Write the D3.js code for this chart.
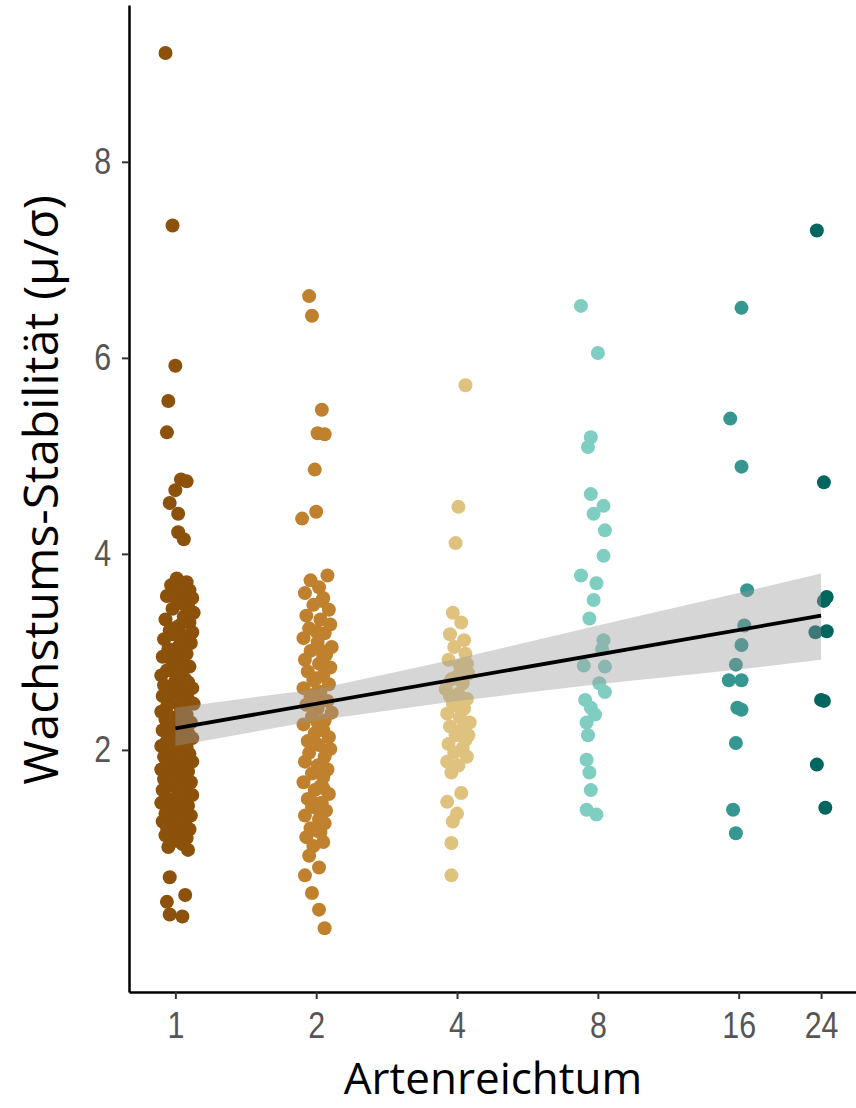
<!DOCTYPE html>
<html><head><meta charset="utf-8">
<script src="https://cdn.jsdelivr.net/npm/d3@7"></script>
<style>body{margin:0;background:#fff}svg{display:block}</style>
</head><body>
<script>
// ---- data ----
const richness = [1, 2, 4, 8, 16, 24];
const tickLabels = ["1", "2", "4", "8", "16", "24"];
const yTicks = [2, 4, 6, 8];
const groupColors = ["#8c510a", "#bf812d", "#dfc27d", "#80cdc1", "#35978f", "#01665e"];
// points: [stability, jitter (log2 units)]
const g1 = [[9.11,-0.07],[7.35,-0.02],[5.92,0.0],[5.56,-0.05],[5.24,-0.06],[4.76,0.04],[4.74,0.08],[4.65,0.0],[4.52,-0.04],[4.41,0.02],[4.22,0.02],[4.15,0.06],
[3.75,0.01],[3.71,0.08],[3.68,-0.03],[3.63,0.10],[3.60,0.05],[3.57,-0.06],[3.55,0.12],[3.50,0.02],[3.47,0.09],[3.44,-0.02],[3.40,0.13],[3.36,0.06],[3.33,-0.07],[3.30,0.10],[3.27,0.03],[3.22,-0.04],[3.20,0.12],[3.16,0.07],[3.13,-0.08],[3.09,0.11],[3.05,0.02],[3.03,-0.05],[2.98,0.08],[2.95,-0.09],[2.93,0.04],[2.88,-0.02],[2.85,0.10],[2.81,-0.06],[2.79,0.05],[2.76,-0.10],[2.72,0.07],[2.70,0.0],[2.66,-0.08],[2.63,0.12],[2.61,-0.03],[2.58,0.06],[2.55,-0.09],[2.52,0.09],[2.49,-0.01],[2.47,0.13],[2.44,-0.06],[2.41,0.04],[2.39,-0.10],[2.36,0.08],[2.33,0.0],[2.31,-0.07],[2.28,0.11],[2.25,-0.03],[2.22,0.05],[2.20,-0.09],[2.17,0.09],[2.15,-0.01],[2.12,0.12],[2.09,-0.06],[2.07,0.03],[2.04,-0.10],[2.01,0.07],[1.99,-0.04],[1.96,0.10],[1.93,-0.08],[1.91,0.02],[1.88,0.12],[1.86,-0.05],[1.83,0.06],[1.80,-0.10],[1.78,0.09],[1.75,-0.02],[1.72,0.04],[1.70,-0.08],[1.67,0.11],[1.64,-0.04],[1.62,0.07],[1.59,-0.09],[1.57,0.02],[1.54,0.12],[1.51,-0.06],[1.49,0.05],[1.46,-0.10],[1.43,0.09],[1.41,-0.02],[1.38,0.03],[1.35,-0.07],[1.33,0.11],[1.30,0.0],[1.27,-0.09],[1.25,0.07],[1.22,-0.04],[1.19,0.10],[1.16,0.02],[1.13,-0.07],[1.10,0.08],[1.07,-0.01],[1.04,0.05],[1.01,-0.05],[0.98,0.09],
[3.58,-0.02],[3.49,0.05],[3.38,0.09],[3.24,-0.01],[3.11,0.04],[2.97,0.0],[2.83,0.03],[2.69,0.09],[2.57,0.02],[2.45,0.07],[2.34,-0.04],[2.24,0.01],[2.13,-0.05],[2.03,0.08],[1.94,0.04],[1.84,-0.01],[1.74,0.02],[1.65,-0.06],[1.55,0.06],[1.45,0.01],[1.36,0.06],[1.26,0.03],[1.17,-0.03],[1.08,0.04],[3.65,0.05],[3.18,-0.02],[2.74,0.01],[2.29,0.03],[1.89,-0.06],[1.52,0.03],[1.21,-0.06],[2.62,0.05],[2.18,0.06],[1.69,0.00],[1.31,0.04],[2.50,0.04],[2.05,0.00],[1.60,0.05],
[0.70,-0.04],[0.52,0.07],[0.45,-0.06],[0.32,-0.04],[0.30,0.05]];
const g2 = [[6.63,-0.05],[6.43,-0.03],[5.47,0.04],[5.23,0.01],[5.22,0.06],[4.86,-0.01],[4.43,0.0],[4.36,-0.10],
[3.78,0.08],[3.73,-0.04],[3.66,0.02],[3.60,-0.08],[3.55,0.05],[3.48,-0.02],[3.43,0.09],[3.37,-0.07],[3.33,0.03],[3.28,0.10],[3.24,-0.05],[3.19,0.06],[3.14,-0.09],[3.10,0.01],[3.05,0.11],[3.01,-0.04],[2.97,0.07],[2.92,-0.08],[2.88,0.02],[2.84,0.10],[2.80,-0.06],[2.76,0.05],[2.71,-0.02],[2.67,0.09],[2.63,-0.09],[2.59,0.03],[2.55,-0.04],[2.50,0.08],[2.46,-0.07],[2.42,0.01],[2.38,0.11],[2.34,-0.03],[2.30,0.06],[2.26,-0.09],[2.21,0.04],[2.17,-0.01],[2.13,0.09],[2.09,-0.06],[2.05,0.02],[2.01,0.10],[1.97,-0.05],[1.93,0.06],[1.88,-0.08],[1.84,0.01],[1.80,0.08],[1.76,-0.03],[1.72,0.05],[1.67,-0.09],[1.63,0.03],[1.59,-0.01],[1.55,0.09],[1.50,-0.06],[1.46,0.04],[1.42,-0.03],[1.38,0.07],[1.33,-0.08],[1.29,0.02],[1.25,0.06],[1.20,-0.04],[1.16,0.03],[1.11,-0.07],[1.06,0.05],[1.02,-0.02],
[3.52,0.04],[3.21,0.00],[2.95,0.05],[2.73,0.00],[2.52,0.04],[2.28,0.01],[2.07,-0.03],[1.86,0.04],[1.61,0.05],[1.40,0.01],[1.18,0.00],[3.02,0.03],[2.60,0.01],[2.20,0.05],[1.78,0.02],[1.45,0.00],
[0.92,-0.05],[0.80,0.02],[0.72,-0.08],[0.54,-0.03],[0.37,0.02],[0.18,0.06]];
const g4 = [[5.72,0.06],[4.48,0.01],[4.11,-0.01],[3.40,-0.03],[3.30,0.03],[3.18,-0.05],[3.12,0.05],[3.05,-0.02],[2.98,0.06],[2.92,-0.06],[2.86,0.02],[2.78,0.08],[2.72,-0.04],[2.68,0.04],[2.62,-0.08],[2.57,0.01],[2.52,0.07],[2.47,-0.03],[2.42,0.05],[2.37,-0.07],[2.33,0.02],[2.28,0.09],[2.24,-0.05],[2.20,0.03],[2.15,-0.01],[2.10,0.06],[2.06,-0.06],[2.02,0.04],[1.97,-0.02],[1.93,0.07],[1.88,-0.07],[1.84,0.01],[2.75,0.00],[2.45,0.00],[2.15,0.08],[2.55,-0.05],[2.88,0.07],
[1.77,-0.04],[1.56,0.03],[1.47,-0.07],[1.35,0.00],[1.27,-0.03],[1.05,-0.04],[0.72,-0.04]];
const g8 = [[6.53,-0.12],[6.05,0.00],[5.19,-0.05],[5.09,-0.07],[4.61,-0.05],[4.49,0.04],[4.41,-0.03],[4.24,0.05],[3.98,0.04],[3.78,-0.12],[3.70,-0.01],[3.53,-0.03],[3.34,-0.06],[3.12,0.04],[3.03,0.03],[2.86,-0.10],[2.85,0.05],[2.68,0.01],[2.59,0.05],[2.51,-0.09],[2.43,-0.05],[2.36,-0.02],[2.28,-0.08],[2.15,-0.07],[1.90,-0.08],[1.77,-0.06],[1.59,-0.05],[1.39,-0.08],[1.34,-0.01]];
const g16 = [[6.51,0.02],[5.38,-0.06],[4.89,0.02],[3.63,0.06],[3.27,0.04],[3.07,0.02],[2.87,-0.02],[2.71,-0.07],[2.71,0.02],[2.43,-0.01],[2.41,0.02],[2.07,-0.02],[1.39,-0.04],[1.15,-0.02]];
const g24 = [[7.30,-0.03],[4.73,0.02],[3.56,0.04],[3.52,0.02],[3.20,-0.04],[3.21,0.04],[2.51,0.00],[2.50,0.02],[1.85,-0.03],[1.41,0.03]];
const groups = [g1, g2, g4, g8, g16, g24];
// fitted line and confidence band
const fitX = [1, 24];
const fitY = [2.22, 3.37];
const bandX = [1, 2, 4, 8, 16, 24];
const bandLow = [2.04, 2.30, 2.50, 2.67, 2.82, 2.92];
const bandHigh = [2.43, 2.62, 2.93, 3.27, 3.60, 3.80];

// ---- chart ----
const W = 856, H = 1108;
const svg = d3.select("body").append("svg").attr("width", W).attr("height", H);
const x = d3.scaleLog().base(2).domain([0.796, 28.5]).range([129, 856]);
const y = d3.scaleLinear().domain([-0.47, 9.6]).range([992, 5]);

const pts = [];
groups.forEach((g, i) => g.forEach(p => pts.push({r: richness[i] * Math.pow(2, p[1]), v: p[0], c: groupColors[i]})));
svg.append("g").selectAll("circle").data(pts).join("circle")
  .attr("cx", d => x(d.r)).attr("cy", d => y(d.v)).attr("r", 7).attr("fill", d => d.c);

const band = bandX.map((b, i) => ({x: b, lo: bandLow[i], hi: bandHigh[i]}));
svg.append("path").datum(band)
  .attr("d", d3.area().x(d => x(d.x)).y0(d => y(d.lo)).y1(d => y(d.hi)))
  .attr("fill", "#999999").attr("fill-opacity", 0.4);
svg.append("path").datum(fitX.map((f, i) => [f, fitY[i]]))
  .attr("d", d3.line().x(d => x(d[0])).y(d => y(d[1])))
  .attr("stroke", "#000").attr("stroke-width", 3.8).attr("fill", "none");

const xa = svg.append("g").attr("transform", "translate(0,992)")
  .call(d3.axisBottom(x).tickValues(richness).tickFormat((d, i) => tickLabels[i]).tickSize(7).tickSizeOuter(0).tickPadding(13));
const ya = svg.append("g").attr("transform", "translate(129,0)")
  .call(d3.axisLeft(y).tickValues(yTicks).tickSize(7).tickSizeOuter(0).tickPadding(11));
[xa, ya].forEach(a => {
  a.attr("font-size", null).attr("font-family", null);
  a.select(".domain").attr("stroke", "#000").attr("stroke-width", 2.5);
  a.selectAll(".tick line").attr("stroke", "#333").attr("stroke-width", 2);
  a.selectAll(".tick text").attr("fill", "#555")
    .style("font-family", "'Liberation Sans', Arial, sans-serif").style("font-size", "37px")
    .each(function() {
      const len = this.getComputedTextLength();
      d3.select(this).attr("textLength", len * 0.82).attr("lengthAdjust", "spacingAndGlyphs");
    });
});

svg.append("text").attr("x", 493).attr("y", 1094).attr("text-anchor", "middle")
  .style("font-family", "'Open Sans', sans-serif").style("font-size", "44px").attr("fill", "#000").text("Artenreichtum");
svg.append("text").attr("transform", "translate(58,490) rotate(-90)").attr("text-anchor", "middle")
  .style("font-family", "'Open Sans', sans-serif").style("font-size", "48px").attr("fill", "#000").text("Wachstums-Stabilität (μ/σ)");
</script>
</body></html>
